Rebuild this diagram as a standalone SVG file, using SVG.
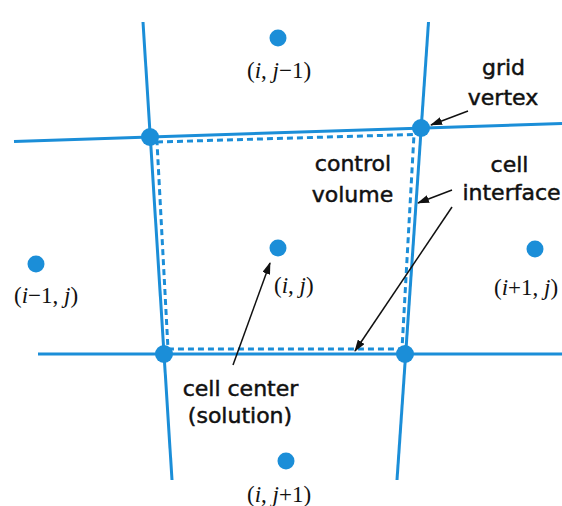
<svg xmlns="http://www.w3.org/2000/svg" width="562" height="506" viewBox="0 0 562 506">
<style>
.grid{stroke:#1b8ed8;stroke-width:3;fill:none}
.cv{stroke:#1b8ed8;stroke-width:3;fill:none;stroke-dasharray:6 4}
.vtx{fill:#1b8ed8}
.ctr{fill:#1b8ed8}
.lbl{font-family:"DejaVu Sans",sans-serif;font-size:22px;fill:#111;stroke:#111;stroke-width:0.5;text-anchor:middle}
.math{font-family:"Liberation Serif",serif;font-size:23px;fill:#111}
.it{font-style:italic}
.arr{stroke:#111;stroke-width:1.5;fill:none;marker-end:url(#ah)}
</style>
<defs>
<marker id="ah" markerUnits="userSpaceOnUse" markerWidth="12" markerHeight="8" refX="11" refY="4" orient="auto">
<path d="M0,0 L12,4 L0,8 z" fill="#111"/>
</marker>
</defs>
<rect width="562" height="506" fill="#fff"/>
<g id="grid-lines">
<line class="grid" x1="14" y1="141.5" x2="562" y2="123.5"/>
<line class="grid" x1="38" y1="354" x2="562" y2="354"/>
<line class="grid" x1="143" y1="22" x2="172" y2="480"/>
<line class="grid" x1="428.5" y1="22" x2="397" y2="480"/>
</g>
<g id="control-volume">
<polygon class="cv" points="157,142 414,134.5 402,349 168,349"/>
</g>
<g id="vertices">
<circle class="vtx" cx="150" cy="137" r="9"/>
<circle class="vtx" cx="421" cy="128" r="9"/>
<circle class="vtx" cx="164" cy="354" r="9"/>
<circle class="vtx" cx="405" cy="354" r="9"/>
</g>
<g id="cell-i-jm1">
<circle class="ctr" cx="278" cy="38" r="8.5"/>
<text class="math" x="247" y="78">(<tspan class="it">i</tspan>, <tspan class="it">j</tspan>−1)</text>
</g>
<g id="cell-i-j">
<circle class="ctr" cx="278" cy="248" r="8.5"/>
<text class="math" x="274" y="293">(<tspan class="it">i</tspan>, <tspan class="it">j</tspan>)</text>
</g>
<g id="cell-im1-j">
<circle class="ctr" cx="36" cy="264" r="8.5"/>
<text class="math" x="14" y="303">(<tspan class="it">i</tspan>−1, <tspan class="it">j</tspan>)</text>
</g>
<g id="cell-ip1-j">
<circle class="ctr" cx="535" cy="249" r="8.5"/>
<text class="math" x="494" y="295">(<tspan class="it">i</tspan>+1, <tspan class="it">j</tspan>)</text>
</g>
<g id="cell-i-jp1">
<circle class="ctr" cx="286" cy="461" r="8.5"/>
<text class="math" x="247" y="502">(<tspan class="it">i</tspan>, <tspan class="it">j</tspan>+1)</text>
</g>
<g id="label-grid-vertex">
<text class="lbl" x="503.5" y="75">grid</text>
<text class="lbl" x="503" y="105">vertex</text>
</g>
<g id="label-control-volume">
<text class="lbl" x="353" y="171">control</text>
<text class="lbl" x="352.5" y="202">volume</text>
</g>
<g id="label-cell-interface">
<text class="lbl" x="509.5" y="172">cell</text>
<text class="lbl" x="511.5" y="200">interface</text>
</g>
<g id="label-cell-center">
<text class="lbl" x="240.5" y="396">cell center</text>
<text class="lbl" x="240" y="423">(solution)</text>
</g>
<g id="connectors">
<line class="arr" x1="468" y1="111" x2="431" y2="125"/>
<line class="arr" x1="452" y1="190" x2="418" y2="203"/>
<line class="arr" x1="452" y1="207" x2="355" y2="351"/>
<line class="arr" x1="233" y1="365" x2="270" y2="263"/>
</g>
</svg>
